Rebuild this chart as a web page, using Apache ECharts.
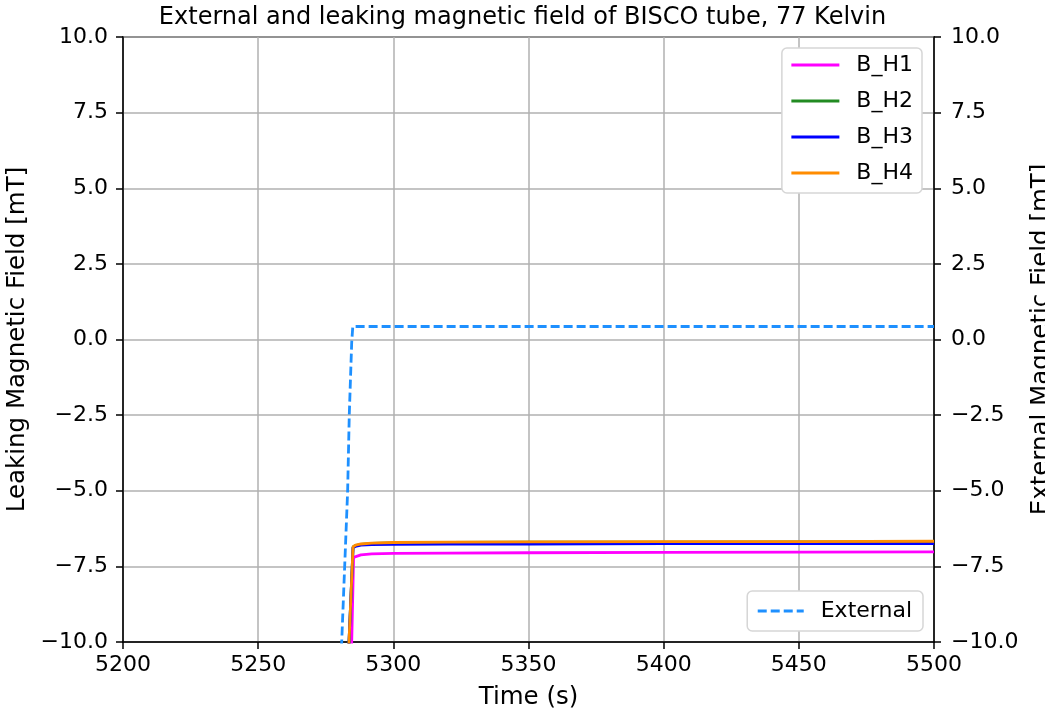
<!DOCTYPE html>
<html>
<head>
<meta charset="utf-8">
<script src="https://cdn.jsdelivr.net/npm/echarts@6/dist/echarts.min.js"></script>
<style>
html, body { margin: 0; padding: 0; background: #fff; }
#chart { width: 1045px; height: 714px; }
</style>
</head>
<body>
<div id="chart"></div>
<script>
// external field (dashed, right axis)
var extTime = [5280.0, 5280.9, 5283.1, 5283.7, 5284.6, 5285.0, 5300, 5350, 5400, 5450, 5500];
var extField = [-11.5, -10.0, -5.0, -2.5, -0.1, 0.43, 0.43, 0.43, 0.43, 0.43, 0.43];

// hall sensors (left axis)
var hTime = [5283.4, 5283.6, 5285.1, 5286, 5288, 5292, 5300, 5320, 5350, 5400, 5450, 5500];
var h1Time = [5284.4, 5284.6, 5285.3, 5286, 5288, 5292, 5300, 5320, 5350, 5400, 5450, 5500];
var bH1 = [-10.5, -10.0, -7.20, -7.16, -7.12, -7.09, -7.07, -7.06, -7.05, -7.04, -7.03, -7.02];
var bH2 = [-10.5, -10.0, -6.86, -6.81, -6.77, -6.74, -6.72, -6.71, -6.70, -6.70, -6.69, -6.69];
var bH3 = [-10.5, -10.0, -6.88, -6.84, -6.80, -6.78, -6.77, -6.76, -6.76, -6.75, -6.75, -6.75];
var bH4 = [-10.5, -10.0, -6.85, -6.80, -6.76, -6.73, -6.71, -6.70, -6.69, -6.68, -6.68, -6.67];

var names = ['B_H1', 'B_H2', 'B_H3', 'B_H4'];
var colors = ['#ff00ff', '#228b22', '#0000ff', '#ff8c00'];

function pairs(xs, ys) {
	return xs.map(function(x, i) { return [x, ys[i]]; });
}

function fmtY(v) {
	return v.toFixed(1).replace('-', '\u2212');
}

var font = 'DejaVu Sans';
var tickFont = { fontFamily: font, fontSize: 22, color: '#000' };
var nameFont = { fontFamily: font, fontSize: 24.5, color: '#000' };
var black = { color: '#000', width: 1.5 };

var hallSeries = [bH1, bH2, bH3, bH4].map(function(vals, i) {
	return {
		name: names[i],
		type: 'line',
		yAxisIndex: 0,
		symbol: 'none',
		clip: true,
		data: pairs(i === 0 ? h1Time : hTime, vals),
		lineStyle: { color: colors[i], width: 2.8 },
		itemStyle: { color: colors[i] },
		z: 3 + i
	};
});

var legendBase = {
	itemWidth: 48, itemHeight: 22,
	backgroundColor: '#fff',
	borderColor: '#d6d6d6', borderWidth: 1.5, borderRadius: 5,
	itemStyle: { opacity: 0 },
	lineStyle: { width: 3 },
	textStyle: { fontFamily: font, fontSize: 22, color: '#000', lineHeight: 22, padding: [0, 0, 0, 12] }
};

var option = {
	backgroundColor: '#fff',
	animation: false,
	title: {
		text: 'External and leaking magnetic field of BISCO tube, 77 Kelvin',
		left: 'center',
		top: 1,
		textStyle: { fontFamily: font, fontSize: 24, fontWeight: 'normal', color: '#000' }
	},
	grid: {
		left: 123, right: 111, top: 37, bottom: 72,
		outerBoundsMode: 'none',
		containLabel: false,
		show: true, borderColor: '#000', borderWidth: 1.5
	},
	legend: [Object.assign({}, legendBase, {
		data: names,
		orient: 'vertical',
		right: 123, top: 48,
		itemGap: 14,
		padding: [6, 9, 9, 8]
	}), Object.assign({}, legendBase, {
		data: ['External'],
		right: 122, top: 591,
		itemWidth: 46,
		padding: [9, 11, 9, 9]
	})],
	xAxis: {
		type: 'value',
		min: 5200, max: 5500, interval: 50,
		name: 'Time (s)', nameLocation: 'middle', nameGap: 43,
		nameTextStyle: nameFont,
		axisLine: { show: true, onZero: false, lineStyle: black },
		axisTick: { show: true, length: 7, lineStyle: black },
		axisLabel: Object.assign({ margin: 12, formatter: function(v) { return String(v); } }, tickFont),
		splitLine: { show: true, lineStyle: { color: '#b0b0b0', width: 1.5 } }
	},
	yAxis: [{
		type: 'value',
		min: -10, max: 10, interval: 2.5,
		name: 'Leaking Magnetic Field [mT]', nameLocation: 'middle', nameGap: 93,
		nameTextStyle: nameFont,
		axisLine: { show: true, onZero: false, lineStyle: black },
		axisTick: { show: true, length: 7, lineStyle: black },
		axisLabel: Object.assign({ margin: 15, formatter: fmtY }, tickFont),
		splitLine: { show: true, lineStyle: { color: '#b0b0b0', width: 1.5 } }
	}, {
		type: 'value',
		position: 'right',
		min: -10, max: 10, interval: 2.5,
		name: 'External Magnetic Field [mT]', nameLocation: 'middle', nameGap: 94,
		nameTextStyle: nameFont,
		axisLine: { show: true, onZero: false, lineStyle: black },
		axisTick: { show: true, length: 7, lineStyle: black },
		axisLabel: Object.assign({ margin: 17, formatter: fmtY }, tickFont),
		splitLine: { show: false }
	}],
	series: hallSeries.concat([{
		name: 'External',
		type: 'line',
		yAxisIndex: 1,
		symbol: 'none',
		clip: true,
		data: pairs(extTime, extField),
		lineStyle: { color: '#1e90ff', width: 2.8, type: [9, 4] },
		itemStyle: { color: '#1e90ff' },
		z: 8
	}])
};

var chart = echarts.init(document.getElementById('chart'));
chart.setOption(option);
</script>
</body>
</html>
